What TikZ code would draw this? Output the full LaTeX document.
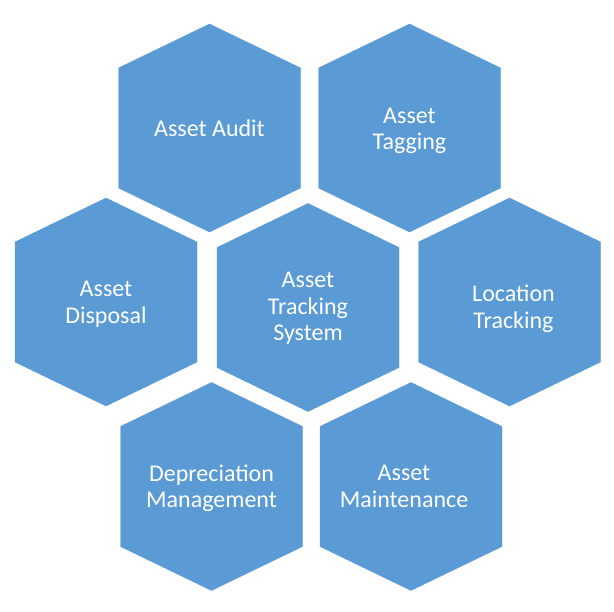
\documentclass[tikz,border=0pt]{standalone}
\usepackage{fontspec}
\setmainfont{Carlito}
\definecolor{hexblue}{HTML}{5B9BD5}
\tikzset{
  hexcell/.style={fill=hexblue,draw=hexblue,line join=miter},
  hexlabel/.style={text=white,align=center,font=\fontsize{24}{26.5}\selectfont}
}
\begin{document}
\begin{tikzpicture}[x=1pt,y=-1pt]
    \useasboundingbox (0,0) rectangle (614,612);
    % cell centre, then shift of its text
    \foreach \name/\cx/\cy/\dx/\dy/\txt in {
        audit/209.5/128/0/0/{Asset Audit},
        tagging/409.5/128/0/3/{Asset\\Tagging},
        disposal/106/302/0/2/{Asset\\Disposal},
        system/308/307.5/0/1/{Asset\\Tracking\\System},
        location/509.5/302/4/7/{Location\\Tracking},
        depreciation/211.5/486.5/0/2/{Depreciation\\Management},
        maintenance/411/486.5/-7/0/{Asset\\Maintenance}}{
      \filldraw[hexcell] (\cx,\cy) ++(0,-104) -- ++(91,44) -- ++(0,120)
          -- ++(-91,44) -- ++(-91,-44) -- ++(0,-120) -- cycle;
      \node[hexlabel] (\name) at (\cx+\dx,\cy+\dy) {\txt};
    }
  \end{tikzpicture}
\end{document}
